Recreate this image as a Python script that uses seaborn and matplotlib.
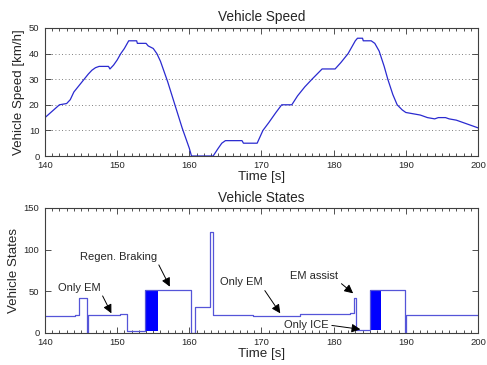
import matplotlib
import matplotlib.pyplot as plt
import pandas as pd
import seaborn as sns
from matplotlib.ticker import MultipleLocator

matplotlib.use('Agg')

# Velocidad del vehículo [km/h]
speed_t = [140, 141, 142, 143, 143.5, 144, 145, 146, 146.5, 147, 147.5, 148.8,
           149, 149.5, 150, 150.5, 151, 151.6, 152.7, 152.8, 154, 154.3, 155,
           155.5, 156, 156.5, 157, 158, 159, 160, 160.3, 163.3, 164, 164.5,
           165, 167.3, 167.5, 169.4, 169.8, 170.2, 171, 172, 172.8, 174.2,
           175, 176, 177, 178.4, 180.2, 181, 182, 183, 183.3, 184, 184.1,
           185.2, 185.7, 186.3, 187, 187.5, 188.2, 188.8, 189.5, 190, 191,
           192, 193, 194, 194.5, 195.5, 196, 197, 198, 199, 200]
speed_kmh = [15, 17.5, 20, 20.5, 22, 25, 28.5, 32, 33.5, 34.5, 35, 35,
             34, 35.5, 37.5, 40, 42, 45, 45, 44, 44, 43, 42,
             40, 37, 33, 29, 20, 11, 3, 0, 0, 3, 5,
             6, 6, 5, 5, 7.5, 10, 13, 17, 20, 20,
             23.5, 27, 30, 34, 34, 36.5, 40, 45, 46, 46, 45,
             45, 44, 41, 35, 30, 24, 20, 18, 17, 16.5,
             16, 15, 14.5, 15, 15, 14.5, 14, 13, 12, 11]

# Estados del vehículo (señal escalonada)
state_t = [140, 144.2, 144.7, 145.8, 145.9, 149.2, 150.4, 151.4, 153.9,
           160.2, 160.8, 162.85, 163.3, 168.8, 175.3, 182.3, 182.8, 183.1,
           185.1, 189.9, 190.0, 200]
state_val = [20, 22, 42, 0, 22, 21, 23, 2, 51,
             0, 31, 121, 22, 20, 22.5, 23.5, 42, 3,
             51, 0, 22, 22]

# Bloques de conmutación rápida (se ven rellenos)
block_start = [153.9, 185.1]
block_end = [155.6, 186.6]
block_low = [2, 3]
block_high = [51, 51]

notes = ["Only EM", "Regen. Braking", "Only EM", "EM assist", "Only ICE"]

sns.set_style("ticks")
plt.rcParams['font.family'] = ['Liberation Sans', 'DejaVu Sans']

fig = plt.figure(figsize=(4.87, 3.65), dpi=100)
ax1 = fig.add_axes([0.0924, 0.5726, 0.8891, 0.3507])
ax2 = fig.add_axes([0.0924, 0.0877, 0.8891, 0.3425])

line_color = '#2a2ad0'

df_speed = pd.DataFrame({'t': speed_t, 'v': speed_kmh})
sns.lineplot(data=df_speed, x='t', y='v', estimator=None, sort=False,
             color=line_color, lw=0.9, ax=ax1)

df_state = pd.DataFrame({'t': state_t, 's': state_val})
sns.lineplot(data=df_state, x='t', y='s', estimator=None, sort=False,
             drawstyle='steps-post', color='#5555d8', lw=0.9, ax=ax2)
for s, e, lo, hi in zip(block_start, block_end, block_low, block_high):
    ax2.fill_between([s, e], lo, hi, color='#0000ff', lw=0)

# Configurar ejes
for ax in (ax1, ax2):
    ax.set_xlim(140, 200)
    ax.xaxis.set_major_locator(MultipleLocator(10))
    ax.xaxis.set_minor_locator(MultipleLocator(1))
    ax.tick_params(which='both', direction='in', top=True, right=True,
                   labelsize=6.8, width=0.6, color='#333333')
    ax.tick_params(axis='x', pad=3.5)
    ax.tick_params(axis='y', pad=4)
    ax.tick_params(which='major', length=4)
    ax.tick_params(which='minor', length=2.5)
    for sp in ax.spines.values():
        sp.set_color('#404040')
        sp.set_linewidth(0.8)
    ax.set_xlabel('Time [s]', fontsize=9.6, labelpad=1)

ax1.set_ylim(0, 50)
ax1.yaxis.set_major_locator(MultipleLocator(10))
ax1.yaxis.grid(True, linestyle=(0, (1, 3)), color='#555555', lw=0.6)
ax1.set_ylabel('Vehicle Speed [km/h]', fontsize=9.6, labelpad=2.5)
ax1.set_title('Vehicle Speed', fontsize=9.8, pad=5)

ax2.set_ylim(0, 150)
ax2.yaxis.set_major_locator(MultipleLocator(50))
ax2.set_ylabel('Vehicle States', fontsize=9.6, labelpad=2.5)
ax2.set_title('Vehicle States', fontsize=9.8, pad=4)

# Anotaciones
arrow = dict(arrowstyle='-|>', color='black', lw=0.7, mutation_scale=13,
             shrinkA=0, shrinkB=0)
note_tips = [(149.2, 23.6), (157.3, 55.6), (172.6, 23.6), (182.7, 47.6),
             (183.7, 4.4)]
note_pos = [(144.8, 54.4), (150.2, 91.6), (167.2, 60.8), (177.3, 68.4),
            (176.2, 9.6)]
note_rel = [(1, 0), (1, 0), (1, 0), (1, 0), (1, 0.5)]
for txt, tip, pos, rel in zip(notes, note_tips, note_pos, note_rel):
    ax2.annotate(txt, xy=tip, xytext=pos, ha='center', va='center',
                 fontsize=8, arrowprops=dict(arrow, relpos=rel))

fig.savefig('out.png', dpi=100)
